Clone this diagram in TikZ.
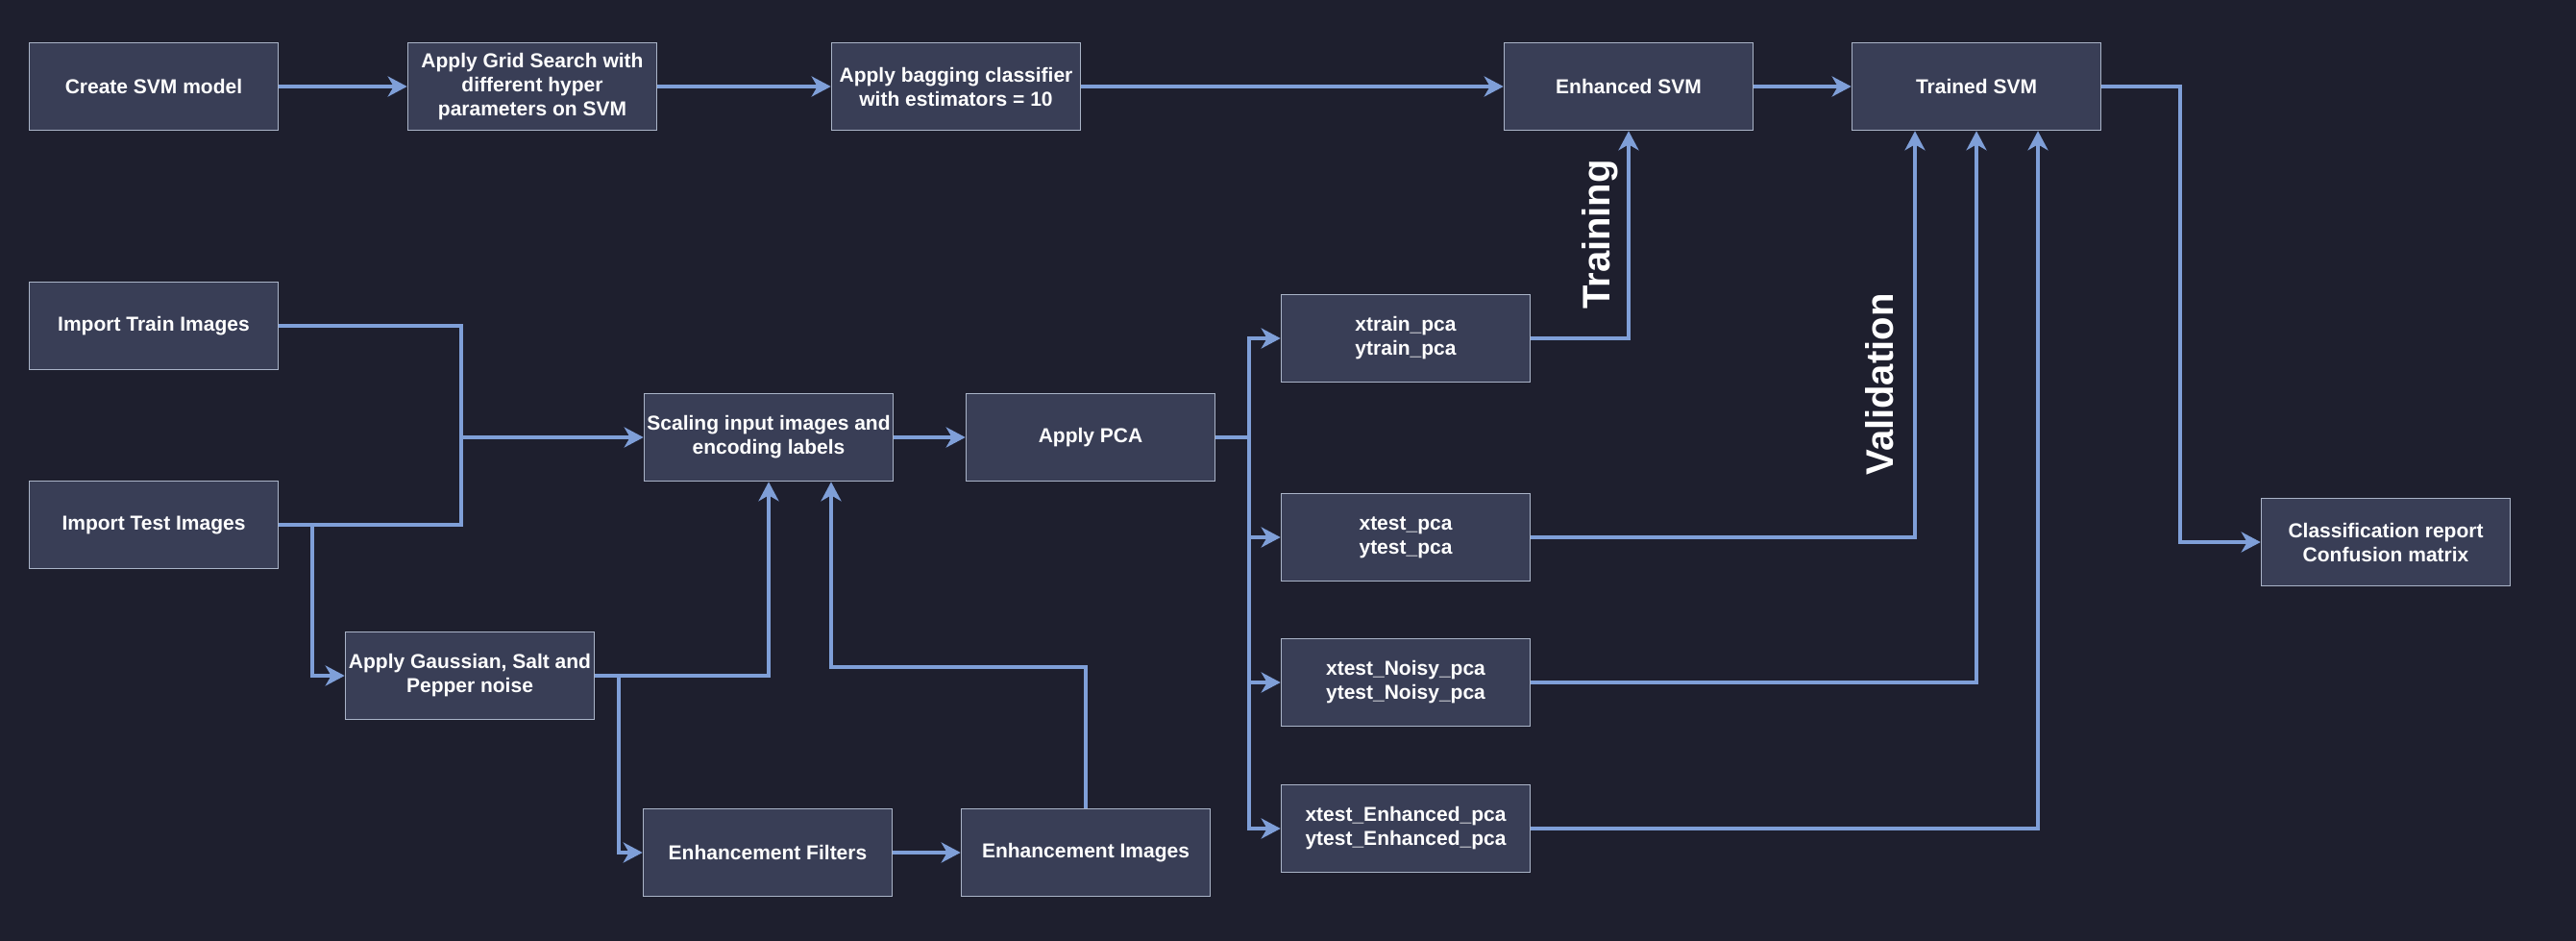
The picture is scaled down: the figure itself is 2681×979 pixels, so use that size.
\documentclass[tikz,border=0pt]{standalone}
\usepackage{fontspec}
\setmainfont{Liberation Sans}
\usetikzlibrary{arrows.meta}
\definecolor{bgc}{HTML}{1E1F2E}
\definecolor{boxfill}{HTML}{393E56}
\definecolor{boxline}{HTML}{AAB4C8}
\definecolor{conn}{HTML}{7F9FD8}
\tikzset{
  box/.style={draw=boxline, line width=1.6pt, fill=boxfill, text=white,
    minimum width=259pt, minimum height=91pt, inner sep=0pt, align=center,
    font=\fontsize{21pt}{25pt}\selectfont\bfseries},
  wire/.style={draw=conn, line width=3.5pt},
  arr/.style={wire, -{Stealth[length=20pt,width=21pt,inset=6pt]}},
  lbl/.style={text=white, font=\fontsize{40pt}{44pt}\selectfont\bfseries, inner sep=0pt}
}
\begin{document}
\begin{tikzpicture}[x=1pt,y=-1pt]
\fill[bgc] (0,0) rectangle (2681,979);
\useasboundingbox (0,0) rectangle (2681,979);
% top row
\node[box] (svm)  at (160,90)  {Create SVM model};
\node[box] (grid) at (554,90)  {Apply Grid Search with\\different hyper\\parameters on SVM};
\node[box] (bag)  at (995,90)  {Apply bagging classifier\\with estimators = 10};
\node[box] (esvm) at (1695,90) {Enhanced SVM};
\node[box] (tsvm) at (2057,90) {Trained SVM};
% left part
\node[box] (train) at (160,339) {Import Train Images};
\node[box] (test)  at (160,546) {Import Test Images};
\node[box] (scale) at (800,455) {Scaling input images and\\encoding labels};
\node[box] (pca)   at (1135,455) {Apply PCA};
\node[box] (noise) at (489,703) {Apply Gaussian, Salt and\\Pepper noise};
\node[box] (filt)  at (799,887) {Enhancement Filters};
\node[box] (eimg)  at (1130,887) {Enhancement Images};
% data boxes
\node[box] (xtrain) at (1463,352) {xtrain\_pca\\ytrain\_pca};
\node[box] (xtest)  at (1463,559) {xtest\_pca\\ytest\_pca};
\node[box] (noisy)  at (1463,710) {xtest\_Noisy\_pca\\ytest\_Noisy\_pca};
\node[box] (enh)    at (1463,862) {xtest\_Enhanced\_pca\\ytest\_Enhanced\_pca};
\node[box] (report) at (2483,564) {Classification report\\Confusion matrix};
% junction points
\coordinate (j1) at (480,455);
\coordinate (j2) at (325,546);
\coordinate (j3) at (644,703);
\coordinate (j4) at (1130,694);
\coordinate (j5) at (865,694);
\coordinate (j6) at (1300,455);
\coordinate (j7) at (2269,90);
% connectors top row
\draw[arr] (svm.east) -- (grid.west);
\draw[arr] (grid.east) -- (bag.west);
\draw[arr] (bag.east) -- (esvm.west);
\draw[arr] (esvm.east) -- (tsvm.west);
% merge
\draw[wire] (train.east) -| (j1);
\draw[arr] (test.east) -| (j1) -- (scale.west);
\draw[arr] (j2) |- (noise.west);
\draw[wire] (test.east) -- (j2);
\draw[arr] (noise.east) -| (scale.south);
\draw[arr] (j3) |- (filt.west);
\draw[arr] (filt.east) -- (eimg.west);
\draw[arr] (eimg.north) -- (j4) -- (j5) -- (j5 |- scale.south);
\draw[arr] (scale.east) -- (pca.west);
\draw[wire] (pca.east) -- (j6);
\draw[arr] (j6) |- (xtrain.west);
\draw[arr] (j6) |- (xtest.west);
\draw[arr] (j6) |- (noisy.west);
\draw[arr] (j6) |- (enh.west);
\draw[arr] (xtrain.east) -| (esvm.south);
\draw[arr] (xtest.east) -| ([xshift=-64pt]tsvm.south);
\draw[arr] (noisy.east) -| (tsvm.south);
\draw[arr] (enh.east) -| ([xshift=64pt]tsvm.south);
\draw[arr] (tsvm.east) -- (j7) |- (report.west);
% labels
\node[lbl, rotate=90] (ltrain) at (1665,244) {Training};
\node[lbl, rotate=90] (lval) at (1956,400) {Validation};
\end{tikzpicture}
\end{document}
